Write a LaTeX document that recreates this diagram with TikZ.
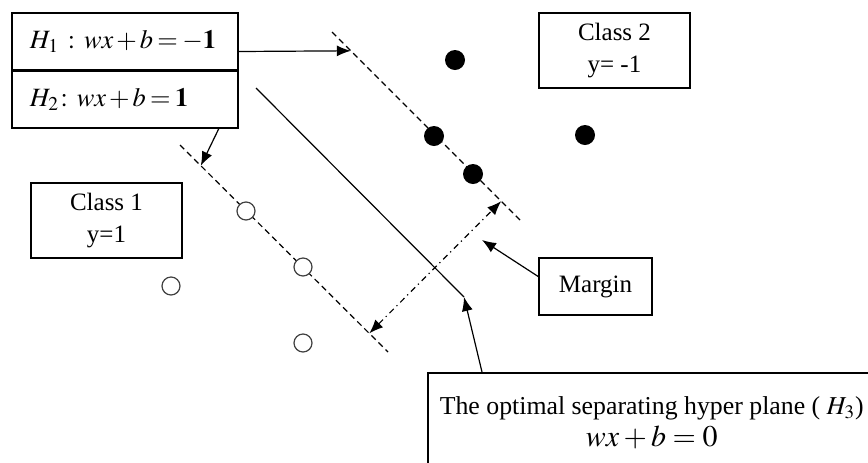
\documentclass[tikz,border=0pt]{standalone}
\usepackage{mathptmx}
\usepackage{fontspec}
\setmainfont{Liberation Serif}
\usetikzlibrary{arrows.meta, positioning, calc}

\newcommand{\tighteq}{\medmuskip=2mu\thickmuskip=3mu}

\tikzset{
  labelbox/.style={draw, line width=0.8pt, align=center, inner sep=0pt,
    font=\fontsize{12.5}{16}\selectfont},
  eqbox/.style={draw, line width=0.8pt, align=left, text width=95pt,
    inner xsep=9pt, inner ysep=0pt, minimum height=28.25pt,
    font=\fontsize{13.2}{15}\selectfont},
  hyper/.style={line width=0.6pt},
  marginline/.style={line width=0.6pt, dash pattern=on 3pt off 2pt},
  pointer/.style={line width=0.6pt, -{Latex[length=7pt,width=5.5pt]}},
  classtwo/.style={circle, fill=black, minimum size=10pt, inner sep=0pt},
  classone/.style={circle, draw=black!75, fill=white, line width=0.6pt, minimum size=9pt, inner sep=0pt},
}

\begin{document}
\begin{tikzpicture}[x=0.5pt, y=-0.5pt]
  \useasboundingbox (0,0) rectangle (868,462);
  \clip (0,0) rectangle (868,462);

  % the three hyperplanes
  \coordinate (h1s) at (332,32);  \coordinate (h1e) at (520,220);
  \coordinate (h2s) at (180,145); \coordinate (h2e) at (388,352);
  \coordinate (h3s) at (256,88);  \coordinate (h3e) at (464,297);
  \draw[marginline] (h1s) -- (h1e)
    coordinate[pos=0.1] (h1tip) coordinate[pos=0.9] (m1);
  \draw[marginline] (h2s) -- (h2e)
    coordinate[pos=0.1] (h2tip) coordinate[pos=0.91] (m2);
  \draw[hyper] (h3s) -- (h3e);

  % margin width
  \draw[line width=0.6pt, dash dot,
    {Latex[length=7pt,width=5.5pt]}-{Latex[length=7pt,width=5.5pt]}] (m2) -- (m1);

  % data points
  \foreach \p/\x/\y in {a/455/60, b/434/136, c/473/174, d/585/135}
    \node[classtwo] (pos\p) at (\x,\y) {};
  \foreach \p/\x/\y in {a/246/211, b/303/267, c/171/286, d/303/343}
    \node[classone] (neg\p) at (\x,\y) {};

  % labels
  \node[eqbox] (h1box) at (125,41.5) {\mbox{$\tighteq H_1\;:\; wx+b=-\mathbf{1}$}};
  \node[eqbox, below=0pt of h1box] (h2box) {\mbox{$\tighteq H_2\!:\; wx+b=\mathbf{1}$}};
  \node[labelbox, minimum width=75.5pt, minimum height=37.5pt] (cls1)
    at (106.5,220.5) {Class 1\\y=1};
  \node[labelbox, minimum width=75.5pt, minimum height=37.5pt] (cls2)
    at (614.5,50.5) {Class 2\\y= -1};
  \node[labelbox, minimum width=56.5pt, minimum height=28.5pt] (margin)
    at (595.5,286.5) {Margin};
  \node[labelbox, anchor=north west, minimum width=224pt, minimum height=50pt,
    font=\fontsize{12.9}{16}\selectfont] (optimal) at (427,372)
    {The optimal separating hyper plane ( $H_3$)\\[0pt]
     {\fontsize{15}{17}\selectfont $wx+b=0$}};

  \coordinate (margintip) at (482,240);

  % pointers
  \draw[pointer] ([yshift=-5pt]h1box.east) -- (h1tip);
  \draw[pointer] ([xshift=-10pt]h2box.south east) -- (h2tip);
  \draw[pointer] ([yshift=5pt]margin.west) -- (margintip);
  \draw[pointer] ([xshift=27.5pt]optimal.north west) -- (h3e);
\end{tikzpicture}
\end{document}
